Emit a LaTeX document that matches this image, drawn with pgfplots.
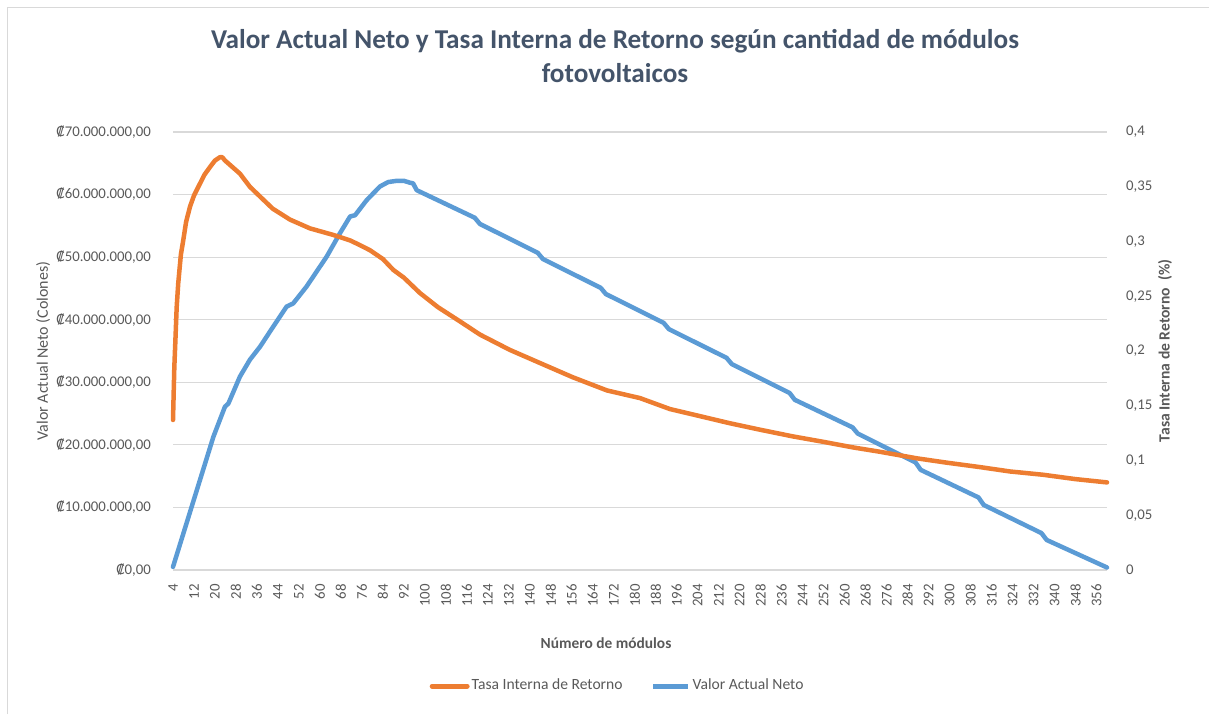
\documentclass[border=0pt]{standalone}
\usepackage{fontspec}
\setmainfont{Carlito}
\newfontfamily\cur{DejaVu Sans}
\usepackage{pgfplots}
\pgfplotsset{compat=1.18}
\definecolor{tir}{HTML}{ED7D31}
\definecolor{van}{HTML}{5B9BD5}
\definecolor{txt}{HTML}{595959}
\definecolor{ttl}{HTML}{44546A}
\definecolor{grd}{HTML}{D9D9D9}
\newcommand{\cc}{{\cur\fontsize{6.8}{8}\selectfont ₡}}
\begin{document}
\begin{tikzpicture}
\useasboundingbox (0,0) rectangle (604.5pt,357pt);
\draw[grd, line width=0.6pt] (3.7pt,0pt) -- (3.7pt,353.3pt) -- (604.5pt,353.3pt);
\node[text=ttl, font=\fontsize{13.6}{16}\selectfont\bfseries] at (307.5pt,336.5pt) {Valor Actual Neto y Tasa Interna de Retorno según cantidad de módulos};
\node[text=ttl, font=\fontsize{13.6}{16}\selectfont\bfseries] at (307.5pt,320.5pt) {fotovoltaicos};
\begin{axis}[
  at={(86.5pt,72pt)}, anchor=south west, scale only axis,
  width=467pt, height=219pt,
  xmin=4, xmax=360, ymin=0, ymax=70,
  axis y line*=left, axis x line*=bottom,
  axis line style={draw=none},
  major tick length=0pt,
  xtick={4,12,...,356},
  /pgf/number format/assume math mode=true,
  xticklabel style={rotate=90, anchor=east, xshift=-3.5pt, font=\fontsize{7.4}{8}\selectfont, text=txt},
  ytick={0,10,20,30,40,50,60,70},
  yticklabels={{\cc0,00},{\cc10.000.000,00},{\cc20.000.000,00},{\cc30.000.000,00},{\cc40.000.000,00},{\cc50.000.000,00},{\cc60.000.000,00},{\cc70.000.000,00}},
  yticklabel style={font=\fontsize{7.4}{8}\selectfont, text=txt, xshift=-7.5pt},
  ymajorgrids, grid style={grd, line width=0.6pt},
  xlabel={Número de módulos},
  xlabel style={at={(rel axis cs:0.4636,-0.1667)}, anchor=center, font=\fontsize{7.7}{9}\selectfont\bfseries, text=txt},
  ylabel={Valor Actual Neto (Colones)},
  ylabel style={at={(rel axis cs:-0.139,0.5)}, anchor=center, font=\fontsize{8}{9}\selectfont, text=txt},
  clip=false,
]
\addplot[van, line width=2.25pt, line join=round, line cap=round] coordinates {
(4,0.5) (19.4,21.3) (23.8,26.1) (25.1,26.6) (29.5,30.9) (33.3,33.6) (37.2,35.7) (42.2,38.9) (47.3,42.1) (49.8,42.6) (54.9,45.3) (62.6,50.1) (67.6,53.8) (71.5,56.5) (73.4,56.7) (77.8,59.1) (82.9,61.3) (86,62.0) (89.3,62.2) (92,62.2) (94.3,61.9) (95.5,61.8) (96.9,60.7) (119,56.3) (121,55.3) (143,50.7) (145,49.7) (167,45.1) (169,44.1) (191,39.5) (193,38.5) (215,33.9) (217,32.9) (239,28.3) (241,27.2) (263,22.8) (265,21.8) (287,17.2) (289,16.0) (311,11.6) (313,10.4) (335,5.9) (337,4.8) (360,0.4)
};
\end{axis}
\begin{axis}[
  at={(86.5pt,72pt)}, anchor=south west, scale only axis,
  width=467pt, height=219pt,
  xmin=4, xmax=360, ymin=0, ymax=0.4,
  hide x axis,
  axis y line*=right,
  axis line style={draw=none},
  major tick length=0pt,
  ytick={0,0.05,0.1,0.15,0.2,0.25,0.3,0.35,0.4},
  yticklabels={0,{0,05},{0,1},{0,15},{0,2},{0,25},{0,3},{0,35},{0,4}},
  yticklabel style={font=\fontsize{7.4}{8}\selectfont, text=txt, xshift=6pt},
  ylabel={Tasa Interna de Retorno \ (\%)},
  ylabel style={at={(rel axis cs:1.062,0.5)}, anchor=center, font=\fontsize{7.8}{9}\selectfont\bfseries, text=txt},
  legend columns=2,
  legend style={at={(rel axis cs:0.476,-0.265)}, anchor=center, draw=none, fill=none, font=\fontsize{7.8}{9}\selectfont, text=txt,
    /tikz/every even column/.append style={column sep=13pt}, nodes={inner sep=1pt}},
  legend image code/.code={\draw[#1, line width=2.5pt] (0pt,0pt) -- (17.5pt,0pt);},
  clip=false,
]
\addplot[tir, line width=2.25pt, line join=round, line cap=round] coordinates {
(4,0.137) (4.5,0.185) (5,0.215) (5.4,0.240) (6,0.262) (7,0.288) (7.9,0.301) (9,0.318) (10.5,0.332) (12,0.342) (14.3,0.353) (16,0.361) (18.1,0.368) (20,0.374) (21.9,0.377) (22.8,0.377) (23.8,0.374) (25.7,0.370) (29.5,0.362) (33.3,0.350) (37.2,0.341) (42,0.330) (48.6,0.320) (56.2,0.312) (65.1,0.306) (71.5,0.301) (75,0.297) (79.1,0.292) (84,0.284) (88,0.274) (92,0.267) (98.1,0.253) (105,0.240) (113.4,0.227) (121,0.215) (132.4,0.201) (143.9,0.189) (156.4,0.176) (169.4,0.164) (182,0.157) (193.4,0.147) (204,0.141) (216.3,0.134) (228,0.128) (240.3,0.122) (252,0.117) (263.1,0.112) (273.4,0.108) (287.5,0.102) (299,0.098) (311.5,0.094) (323,0.090) (335.6,0.087) (348,0.083) (360,0.080)
};
\addlegendentry{Tasa Interna de Retorno}
\addlegendimage{van, line width=2.25pt}
\addlegendentry{Valor Actual Neto}
\end{axis}
\end{tikzpicture}
\end{document}
